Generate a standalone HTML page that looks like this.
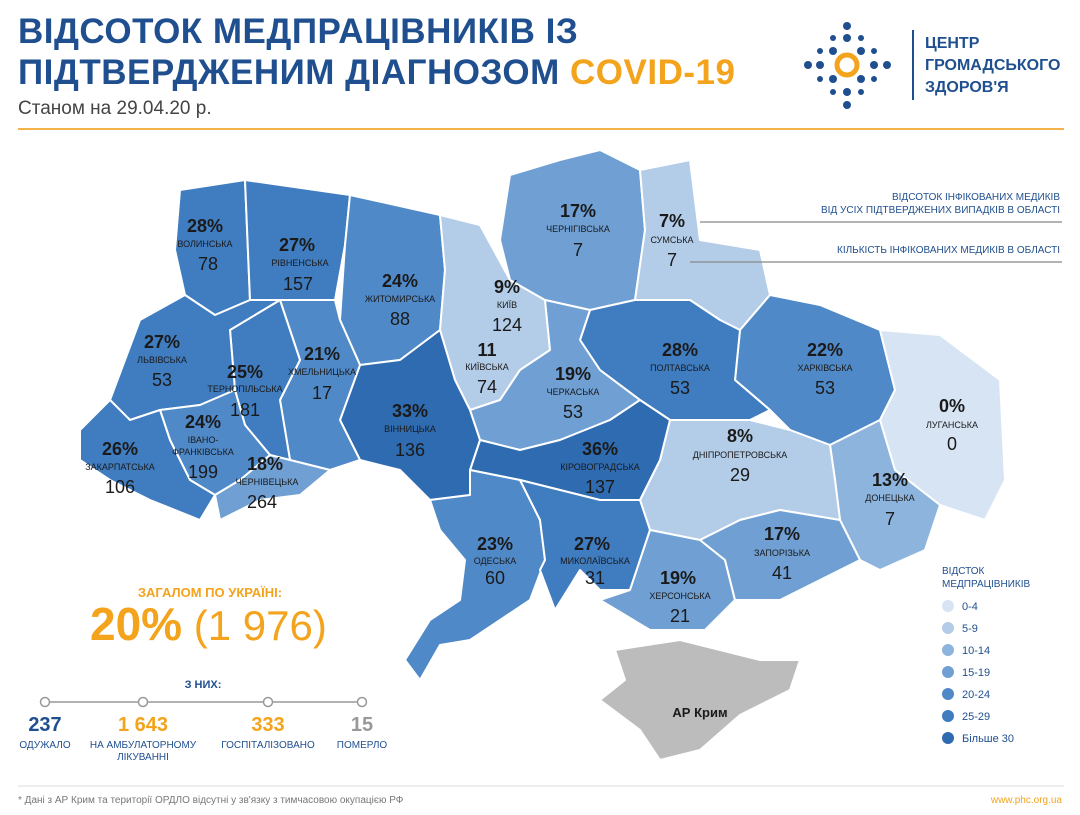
<!DOCTYPE html>
<html><head><meta charset="utf-8"><style>
body{margin:0;width:1080px;height:815px;background:#fff;font-family:"Liberation Sans","DejaVu Sans",sans-serif;overflow:hidden;position:relative}
.a{position:absolute}
.t{color:#1f4f8f;font-weight:bold;font-size:35px;letter-spacing:0.5px;line-height:40px}
</style></head><body>
<div class="a t" style="left:18px;top:12px">ВІДСОТОК МЕДПРАЦІВНИКІВ ІЗ</div>
<div class="a t" style="left:18px;top:53px">ПІДТВЕРДЖЕНИМ ДІАГНОЗОМ <span style="color:#f3a31c">COVID-19</span></div>
<div class="a" style="left:18px;top:98px;font-size:19px;color:#444">Станом на 29.04.20 р.</div>
<div class="a" style="left:18px;top:128px;width:1046px;height:2px;background:#f3b24a"></div>
<svg class="a" style="left:800px;top:18px" width="95" height="95" viewBox="0 0 95 95">
<g fill="#1f4f8f"><circle cx="47" cy="8" r="4"/><circle cx="47" cy="87" r="4"/><circle cx="8" cy="47" r="4"/><circle cx="87" cy="47" r="4"/>
<circle cx="47" cy="20" r="4"/><circle cx="47" cy="74" r="4"/><circle cx="20" cy="47" r="4"/><circle cx="74" cy="47" r="4"/>
<circle cx="33" cy="33" r="4"/><circle cx="61" cy="33" r="4"/><circle cx="33" cy="61" r="4"/><circle cx="61" cy="61" r="4"/>
<circle cx="33" cy="20" r="3"/><circle cx="61" cy="20" r="3"/><circle cx="33" cy="74" r="3"/><circle cx="61" cy="74" r="3"/>
<circle cx="20" cy="33" r="3"/><circle cx="74" cy="33" r="3"/><circle cx="20" cy="61" r="3"/><circle cx="74" cy="61" r="3"/></g>
<circle cx="47" cy="47" r="10" fill="none" stroke="#f3a31c" stroke-width="5"/></svg>
<div class="a" style="left:912px;top:30px;width:2px;height:70px;background:#1f4f8f"></div>
<div class="a" style="left:925px;top:33px;font-size:16px;font-weight:bold;color:#1f4f8f;line-height:22px">ЦЕНТР<br>ГРОМАДСЬКОГО<br>ЗДОРОВ'Я</div>

<svg class="a" style="left:0;top:0" width="1080" height="815">
<g stroke="#fff" stroke-width="2" stroke-linejoin="round">
<polygon fill="#3f7cc0" points="180,190 245,180 250,300 215,315 185,295 175,250"/>
<polygon fill="#3f7cc0" points="245,180 350,195 345,245 335,300 280,300 250,300"/>
<polygon fill="#5089c8" points="350,195 440,215 445,270 440,330 400,360 360,365 340,320 345,245"/>
<polygon fill="#b3cce8" points="440,215 480,225 510,280 545,300 550,350 520,370 500,400 470,410 455,380 440,330 445,270"/>
<polygon fill="#6f9fd3" points="510,175 560,160 600,150 640,170 645,230 635,300 590,310 545,300 510,280 500,240"/>
<polygon fill="#b3cce8" points="640,170 690,160 700,240 760,250 770,295 740,330 720,320 690,300 635,300 645,230"/>
<polygon fill="#5089c8" points="740,330 770,295 820,305 880,330 895,390 880,420 830,445 790,430 770,410 735,380"/>
<polygon fill="#d6e4f3" points="880,330 940,335 1000,380 1005,480 985,520 940,505 895,470 880,420 895,390"/>
<polygon fill="#8db4dd" points="830,445 880,420 895,470 940,505 925,550 880,570 860,560 840,520 835,480"/>
<polygon fill="#3f7cc0" points="590,310 635,300 690,300 720,320 740,330 735,380 770,410 750,420 700,420 670,420 640,400 600,370 580,340"/>
<polygon fill="#6f9fd3" points="545,300 590,310 580,340 600,370 640,400 610,420 560,440 520,450 480,440 470,410 500,400 520,370 550,350"/>
<polygon fill="#b3cce8" points="670,420 700,420 750,420 790,430 830,445 835,480 840,520 780,510 740,520 700,540 650,530 640,500 660,460"/>
<polygon fill="#2f6bb0" points="480,440 520,450 560,440 610,420 640,400 670,420 660,460 640,500 600,500 560,490 520,480 470,470"/>
<polygon fill="#2f6bb0" points="360,365 400,360 440,330 455,380 470,410 480,440 470,470 470,495 430,500 400,470 360,460 340,420"/>
<polygon fill="#5089c8" points="280,300 335,300 340,320 360,365 340,420 360,460 330,470 290,460 280,400 300,360"/>
<polygon fill="#3f7cc0" points="230,330 280,300 300,360 280,400 290,460 270,455 245,425 235,390"/>
<polygon fill="#3f7cc0" points="185,295 215,315 250,300 280,300 230,330 235,390 200,405 160,410 130,420 110,400 125,360 140,320"/>
<polygon fill="#5089c8" points="160,410 200,405 235,390 245,425 270,455 240,480 215,495 190,480 170,440"/>
<polygon fill="#3f7cc0" points="80,430 110,400 130,420 160,410 170,440 190,480 215,495 200,520 150,500 110,480 80,460"/>
<polygon fill="#6f9fd3" points="215,495 240,480 270,455 290,460 330,470 300,495 260,500 220,520"/>
<polygon fill="#5089c8" points="470,495 470,470 520,480 540,520 545,560 530,600 500,620 470,640 440,645 420,680 405,660 430,620 460,600 465,560 440,530 430,500"/>
<polygon fill="#3f7cc0" points="520,480 560,490 600,500 640,500 650,530 630,590 600,590 580,570 555,610 540,570 545,560 540,520"/>
<polygon fill="#6f9fd3" points="630,590 650,530 700,540 725,560 735,600 705,630 650,630 600,600"/>
<polygon fill="#6f9fd3" points="700,540 740,520 780,510 840,520 860,560 820,580 780,600 735,600 725,560"/>
<polygon fill="#bcbcbc" points="615,650 680,640 720,650 760,660 800,660 790,690 740,715 700,750 660,760 640,730 600,700 625,680"/>
</g>
<g stroke="#888" stroke-width="1.2"><line x1="700" y1="222" x2="1062" y2="222"/><line x1="690" y1="262" x2="1062" y2="262"/></g>
<g font-size="10" fill="#1f4f8f" text-anchor="end"><text x="1060" y="200">ВІДСОТОК ІНФІКОВАНИХ МЕДИКІВ</text><text x="1060" y="213">ВІД УСІХ ПІДТВЕРДЖЕНИХ ВИПАДКІВ В ОБЛАСТІ</text><text x="1060" y="253">КІЛЬКІСТЬ ІНФІКОВАНИХ МЕДИКІВ В ОБЛАСТІ</text></g>
<g text-anchor="middle" fill="#1a1a1a">
<g font-size="18" font-weight="bold">
<text x="205" y="232">28%</text><text x="297" y="251">27%</text><text x="400" y="287">24%</text><text x="507" y="293">9%</text><text x="578" y="217">17%</text><text x="672" y="227">7%</text>
<text x="162" y="348">27%</text><text x="245" y="378">25%</text><text x="322" y="360">21%</text><text x="487" y="356">11</text><text x="573" y="380">19%</text><text x="680" y="356">28%</text><text x="825" y="356">22%</text><text x="952" y="412">0%</text>
<text x="410" y="417">33%</text><text x="203" y="428">24%</text><text x="600" y="455">36%</text><text x="740" y="442">8%</text><text x="120" y="455">26%</text><text x="265" y="470">18%</text><text x="890" y="486">13%</text>
<text x="495" y="550">23%</text><text x="592" y="550">27%</text><text x="678" y="584">19%</text><text x="782" y="540">17%</text></g>
<g font-size="9">
<text x="205" y="247">ВОЛИНСЬКА</text><text x="300" y="266">РІВНЕНСЬКА</text><text x="400" y="302">ЖИТОМИРСЬКА</text><text x="507" y="308">КИЇВ</text><text x="578" y="232">ЧЕРНІГІВСЬКА</text><text x="672" y="243">СУМСЬКА</text>
<text x="162" y="363">ЛЬВІВСЬКА</text><text x="245" y="392">ТЕРНОПІЛЬСЬКА</text><text x="322" y="375">ХМЕЛЬНИЦЬКА</text><text x="487" y="370">КИЇВСЬКА</text><text x="573" y="395">ЧЕРКАСЬКА</text><text x="680" y="371">ПОЛТАВСЬКА</text><text x="825" y="371">ХАРКІВСЬКА</text><text x="952" y="428">ЛУГАНСЬКА</text>
<text x="410" y="432">ВІННИЦЬКА</text><text x="203" y="443">ІВАНО-</text><text x="203" y="455">ФРАНКІВСЬКА</text><text x="600" y="470">КІРОВОГРАДСЬКА</text><text x="740" y="458">ДНІПРОПЕТРОВСЬКА</text><text x="120" y="470">ЗАКАРПАТСЬКА</text><text x="267" y="485">ЧЕРНІВЕЦЬКА</text><text x="890" y="501">ДОНЕЦЬКА</text>
<text x="495" y="564">ОДЕСЬКА</text><text x="595" y="564">МИКОЛАЇВСЬКА</text><text x="680" y="599">ХЕРСОНСЬКА</text><text x="782" y="556">ЗАПОРІЗЬКА</text></g>
<g font-size="18">
<text x="208" y="270">78</text><text x="298" y="290">157</text><text x="400" y="325">88</text><text x="507" y="331">124</text><text x="578" y="256">7</text><text x="672" y="266">7</text>
<text x="162" y="386">53</text><text x="245" y="416">181</text><text x="322" y="399">17</text><text x="487" y="393">74</text><text x="573" y="418">53</text><text x="680" y="394">53</text><text x="825" y="394">53</text><text x="952" y="450">0</text>
<text x="410" y="456">136</text><text x="203" y="478">199</text><text x="600" y="493">137</text><text x="740" y="481">29</text><text x="120" y="493">106</text><text x="262" y="508">264</text><text x="890" y="525">7</text>
<text x="495" y="584">60</text><text x="595" y="584">31</text><text x="680" y="622">21</text><text x="782" y="579">41</text></g>
<text x="700" y="717" font-size="13" font-weight="bold">АР Крим</text>
</g>
<g font-size="10" fill="#1f4f8f"><text x="942" y="574">ВІДСТОК</text><text x="942" y="587">МЕДПРАЦІВНИКІВ</text></g>
<g font-size="11" fill="#1f4f8f">
<circle cx="948" cy="606" r="6" fill="#d6e4f3"/><text x="962" y="610">0-4</text>
<circle cx="948" cy="628" r="6" fill="#b3cce8"/><text x="962" y="632">5-9</text>
<circle cx="948" cy="650" r="6" fill="#8db4dd"/><text x="962" y="654">10-14</text>
<circle cx="948" cy="672" r="6" fill="#6f9fd3"/><text x="962" y="676">15-19</text>
<circle cx="948" cy="694" r="6" fill="#5089c8"/><text x="962" y="698">20-24</text>
<circle cx="948" cy="716" r="6" fill="#3f7cc0"/><text x="962" y="720">25-29</text>
<circle cx="948" cy="738" r="6" fill="#2f6bb0"/><text x="962" y="742">Більше 30</text></g>
<text x="210" y="597" font-size="13" font-weight="bold" fill="#f3a31c" text-anchor="middle">ЗАГАЛОМ ПО УКРАЇНІ:</text>
<text x="90" y="640" font-size="46" font-weight="bold" fill="#f3a31c">20%<tspan font-weight="normal" font-size="42"> (1 976)</tspan></text>
<text x="203" y="688" font-size="11" font-weight="bold" fill="#1f4f8f" text-anchor="middle">З НИХ:</text>
<line x1="45" y1="702" x2="362" y2="702" stroke="#999" stroke-width="1.5"/>
<g fill="#fff" stroke="#999" stroke-width="1.5"><circle cx="45" cy="702" r="4.5"/><circle cx="143" cy="702" r="4.5"/><circle cx="268" cy="702" r="4.5"/><circle cx="362" cy="702" r="4.5"/></g>
<g font-size="20" font-weight="bold" text-anchor="middle"><text x="45" y="731" fill="#1f4f8f">237</text><text x="143" y="731" fill="#f3a31c">1 643</text><text x="268" y="731" fill="#f3a31c">333</text><text x="362" y="731" fill="#999">15</text></g>
<g font-size="10" fill="#1f4f8f" text-anchor="middle"><text x="45" y="748">ОДУЖАЛО</text><text x="143" y="748">НА АМБУЛАТОРНОМУ</text><text x="143" y="760">ЛІКУВАННІ</text><text x="268" y="748">ГОСПІТАЛІЗОВАНО</text><text x="362" y="748">ПОМЕРЛО</text></g>
<line x1="18" y1="786" x2="1064" y2="786" stroke="#ddd"/>
<text x="18" y="803" font-size="10" fill="#777">* Дані з АР Крим та території ОРДЛО відсутні у зв'язку з тимчасовою окупацією РФ</text>
<text x="1062" y="803" font-size="10" fill="#f3a31c" text-anchor="end">www.phc.org.ua</text>
</svg>
</body></html>
